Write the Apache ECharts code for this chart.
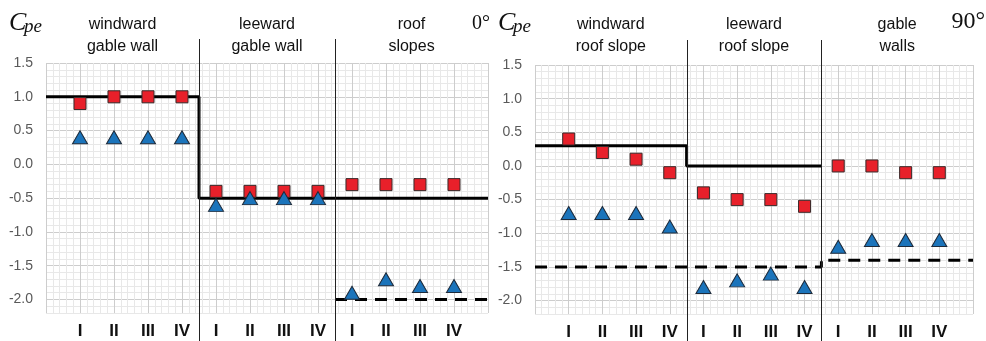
<!DOCTYPE html>
<html><head><meta charset="utf-8">
<script src="https://cdn.jsdelivr.net/npm/echarts@6/dist/echarts.min.js"></script>
<style>html,body{margin:0;padding:0;background:#fff}#c{width:986px;height:341px}</style>
</head><body><div id="c"></div>
<script>
// ---- data ----
const tickLabels = ['I', 'II', 'III', 'IV'];
const sectionTitles0 = ['windward\ngable wall', 'leeward\ngable wall', 'roof\nslopes'];
const sectionTitles90 = ['windward\nroof slope', 'leeward\nroof slope', 'gable\nwalls'];
const angleLabel0 = '0°';
const angleLabel90 = '90°';
const squares0 = [0.9, 1.0, 1.0, 1.0, -0.4, -0.4, -0.4, -0.4, -0.3, -0.3, -0.3, -0.3];
const triangles0 = [0.4, 0.4, 0.4, 0.4, -0.6, -0.5, -0.5, -0.5, -1.9, -1.7, -1.8, -1.8];
const solidLevels0 = [1.0, -0.5, -0.5];
const dashedLevels0 = [null, null, -2.0];
const squares90 = [0.4, 0.2, 0.1, -0.1, -0.4, -0.5, -0.5, -0.6, 0.0, 0.0, -0.1, -0.1];
const triangles90 = [-0.7, -0.7, -0.7, -0.9, -1.8, -1.7, -1.6, -1.8, -1.2, -1.1, -1.1, -1.1];
const solidLevels90 = [0.3, 0.0, null];
const dashedLevels90 = [-1.5, -1.5, -1.4];
const yTickLabels = [1.5, 1.0, 0.5, 0.0, -0.5, -1.0, -1.5, -2.0];
const yMin = -2.2, yMax = 1.5;

// ---- helpers ----
const perSection = tickLabels.length;
const nSections = 3;
const nPoints = perSection * nSections;
const xMax = nPoints + 1;
function bounds(s) {
  const a = s === 0 ? 0 : s * perSection + 0.5;
  const b = s === nSections - 1 ? xMax : (s + 1) * perSection + 0.5;
  return [a, b];
}
function stepRuns(levels) {
  const runs = []; let cur = null;
  levels.forEach((lv, s) => {
    if (lv === null) { if (cur) { runs.push(cur); cur = null; } return; }
    if (!cur) cur = [];
    const [a, b] = bounds(s);
    cur.push([a, lv], [b, lv]);
  });
  if (cur) runs.push(cur);
  return runs;
}
function pts(vals) { return vals.map((v, i) => [i + 1, v]); }

const MAJOR = '#cdcdcd', MINOR = '#e8e8e8';
const grids = [
  { left: 46, top: 63, width: 442, height: 250 },
  { left: 535, top: 65, width: 438, height: 250 }
];
function xAxis(gi) {
  return {
    type: 'value', gridIndex: gi, min: 0, max: xMax, interval: 0.2,
    axisLine: { show: false }, axisTick: { show: false },
    splitLine: { show: true, lineStyle: { width: 1, color: [MAJOR, MINOR, MINOR, MINOR, MINOR] } },
    axisLabel: {
      margin: 10, fontSize: 17, fontWeight: 'bold', color: '#111',
      fontFamily: 'Liberation Sans, Arial, sans-serif', showMinLabel: true, showMaxLabel: true,
      formatter: v => {
        const r = Math.round(v);
        if (Math.abs(v - r) > 1e-6 || r < 1 || r > nPoints) return '';
        return tickLabels[(r - 1) % perSection];
      }
    }
  };
}
function yAxis(gi) {
  return {
    type: 'value', gridIndex: gi, min: yMin, max: yMax, interval: 0.1,
    axisLine: { show: false }, axisTick: { show: false },
    splitLine: { show: true, lineStyle: { width: 1, color: [MINOR, MINOR, MAJOR, MINOR, MINOR] } },
    axisLabel: {
      margin: 13, fontSize: 14, color: '#595959',
      fontFamily: 'Liberation Sans, Arial, sans-serif',
      formatter: v => {
        const hit = yTickLabels.find(t => Math.abs(t - v) < 1e-6);
        return hit === undefined ? '' : hit.toFixed(1);
      }
    }
  };
}
function panelSeries(gi, squares, triangles, solid, dashed) {
  const s = [];
  stepRuns(solid).forEach(run => s.push({
    type: 'line', xAxisIndex: gi, yAxisIndex: gi, data: run, showSymbol: false, symbol: 'none',
    lineStyle: { color: '#000', width: 3, type: 'solid' }, z: 3, silent: true
  }));
  stepRuns(dashed).forEach(run => s.push({
    type: 'line', xAxisIndex: gi, yAxisIndex: gi, data: run, showSymbol: false, symbol: 'none',
    lineStyle: { color: '#000', width: 3, type: [12, 8] }, z: 3, silent: true
  }));
  s.push({
    type: 'scatter', xAxisIndex: gi, yAxisIndex: gi, data: pts(squares), symbol: 'rect', symbolSize: 12,
    itemStyle: { color: '#e8202a', borderColor: '#3a2a2a', borderWidth: 1, opacity: 1 }, z: 5
  });
  s.push({
    type: 'scatter', xAxisIndex: gi, yAxisIndex: gi, data: pts(triangles), symbol: 'triangle', symbolSize: [15, 13],
    itemStyle: { color: '#1b74bb', borderColor: '#1d2a3a', borderWidth: 1, opacity: 1 }, z: 5
  });
  return s;
}

const chart = echarts.init(document.getElementById('c'), null, { renderer: 'canvas' });
chart.setOption({
  animation: false,
  backgroundColor: '#fff',
  grid: grids,
  xAxis: [xAxis(0), xAxis(1)],
  yAxis: [yAxis(0), yAxis(1)],
  series: [].concat(
    panelSeries(0, squares0, triangles0, solidLevels0, dashedLevels0),
    panelSeries(1, squares90, triangles90, solidLevels90, dashedLevels90)
  )
});

// ---- decorations placed through the axes ----
const graphics = [];
const dividerTop = [39, 40];
[[sectionTitles0, angleLabel0], [sectionTitles90, angleLabel90]].forEach(([titles, ang], gi) => {
  const px = v => chart.convertToPixel({ xAxisIndex: gi }, v);
  for (let s = 1; s < nSections; s++) {
    const x = Math.round(px(bounds(s)[0])) + 0.5;
    graphics.push({ type: 'line', shape: { x1: x, y1: dividerTop[gi], x2: x, y2: 341 },
      style: { stroke: '#222', lineWidth: 1 }, z: 10, silent: true });
  }
  titles.forEach((t, s) => {
    const [a, b] = bounds(s);
    graphics.push({ type: 'text', x: px((a + b) / 2), y: 14, z: 10, silent: true,
      style: { text: t, fill: '#111', font: '16px "Liberation Sans", Arial, sans-serif',
        textAlign: 'center', textVerticalAlign: 'top', lineHeight: 22 } });
  });
  const gx = grids[gi].left;
  graphics.push({ type: 'text', x: gx - 37, y: 10, z: 10, silent: true,
    style: { text: 'C', fill: '#111', font: 'italic 26px "Liberation Serif", "DejaVu Serif", serif', textVerticalAlign: 'top' } });
  graphics.push({ type: 'text', x: gx - 22, y: 17, z: 10, silent: true,
    style: { text: 'pe', fill: '#111', font: 'italic 19px "Liberation Serif", "DejaVu Serif", serif', textVerticalAlign: 'top' } });
  const right = grids[gi].left + grids[gi].width;
  graphics.push({ type: 'text', x: gi === 0 ? right + 2 : right + 12, y: gi === 0 ? 14 : 10, z: 10, silent: true,
    style: { text: ang, fill: '#111', font: (gi === 0 ? '20px' : '24px') + ' "Liberation Serif", "DejaVu Serif", serif',
      textAlign: 'right', textVerticalAlign: 'top' } });
});
chart.setOption({ graphic: graphics });
</script>
</body></html>
